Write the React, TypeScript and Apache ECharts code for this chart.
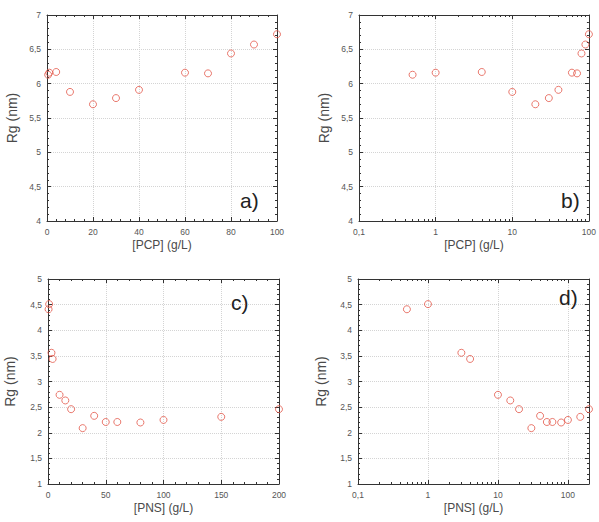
import React, { useEffect, useRef } from 'react';
import * as echarts from 'echarts';

// Data
const pcpConc = [0.5, 1, 4, 10, 20, 30, 40, 60, 70, 80, 90, 100];
const pcpRg = [6.13, 6.16, 6.17, 5.88, 5.7, 5.79, 5.91, 6.16, 6.15, 6.44, 6.57, 6.72];
const pnsConc = [0.5, 1, 3, 4, 10, 15, 20, 30, 40, 50, 60, 80, 100, 150, 200];
const pnsRg = [4.41, 4.51, 3.56, 3.44, 2.74, 2.63, 2.46, 2.09, 2.33, 2.21, 2.21, 2.2, 2.25, 2.31, 2.46];

const panelLabels = ['a)', 'b)', 'c)', 'd)'];
const logMajorTicks = [0.1, 1, 10, 100];
const logMinorTicks = [
  0.2, 0.3, 0.4, 0.5, 0.6, 0.7, 0.8, 0.9,
  2, 3, 4, 5, 6, 7, 8, 9,
  20, 30, 40, 50, 60, 70, 80, 90, 200,
];

const FONT = 'Liberation Sans, Arial, sans-serif';
const AXIS_COLOR = '#333';
const LABEL_COLOR = '#555';
const TITLE_COLOR = '#4a4a4a';
const GRID_COLOR = '#d4d4d4';
const MARKER_COLOR = '#e4574a';

const comma = (v: number) => String(v).replace('.', ',');

type Panel = {
  grid: { left: number; top: number; width: number; height: number };
  xType: 'value' | 'log';
  xMin: number;
  xMax: number;
  xInterval?: number;
  yMin: number;
  yMax: number;
  xName: string;
  x: number[];
  y: number[];
  label: string;
  labelPos: [number, number];
  yNameGap: number;
};

const panels: Panel[] = [
  {
    grid: { left: 47, top: 15, width: 230, height: 206 },
    xType: 'value', xMin: 0, xMax: 100, xInterval: 20,
    yMin: 4, yMax: 7, xName: '[PCP] (g/L)', x: pcpConc, y: pcpRg,
    label: panelLabels[0], labelPos: [240, 200], yNameGap: 28,
  },
  {
    grid: { left: 359, top: 15, width: 231, height: 206 },
    xType: 'log', xMin: 0.1, xMax: 100,
    yMin: 4, yMax: 7, xName: '[PCP] (g/L)', x: pcpConc, y: pcpRg,
    label: panelLabels[1], labelPos: [561, 200], yNameGap: 28,
  },
  {
    grid: { left: 48, top: 279, width: 231, height: 205 },
    xType: 'value', xMin: 0, xMax: 200, xInterval: 50,
    yMin: 1, yMax: 5, xName: '[PNS] (g/L)', x: pnsConc, y: pnsRg,
    label: panelLabels[2], labelPos: [231, 302], yNameGap: 31,
  },
  {
    grid: { left: 358, top: 279, width: 231, height: 205 },
    xType: 'log', xMin: 0.1, xMax: 200,
    yMin: 1, yMax: 5, xName: '[PNS] (g/L)', x: pnsConc, y: pnsRg,
    label: panelLabels[3], labelPos: [559, 297], yNameGap: 30,
  },
];

function buildOption() {
  const grids: any[] = [];
  const xAxes: any[] = [];
  const yAxes: any[] = [];
  const series: any[] = [];
  const graphics: any[] = [];

  const lineStyle = { color: AXIS_COLOR, width: 1 };

  panels.forEach((p, gi) => {
    grids.push({ ...p.grid, show: false, containLabel: false });
    const isLog = p.xType === 'log';

    const xBase: any = {
      gridIndex: gi,
      type: p.xType,
      min: p.xMin,
      max: p.xMax,
      axisLine: { show: true, onZero: false, lineStyle },
      axisTick: { show: true, inside: true, length: 4, lineStyle },
      minorTick: { show: !isLog, splitNumber: 5, length: 2, lineStyle },
    };
    if (!isLog) xBase.interval = p.xInterval;
    if (isLog) xBase.logBase = 10;

    const bottomIndex = xAxes.length;
    xAxes.push({
      ...xBase,
      position: 'bottom',
      name: p.xName,
      nameLocation: 'middle',
      nameGap: 18,
      nameTextStyle: { fontFamily: FONT, fontSize: 12, color: TITLE_COLOR },
      axisLabel: {
        fontFamily: FONT,
        fontSize: 8.5,
        color: LABEL_COLOR,
        margin: 6,
        formatter: (v: number) =>
          isLog ? (logMajorTicks.some((t) => Math.abs(t - v) < 1e-9) ? comma(v) : '') : comma(v),
      },
      splitLine: { show: true, lineStyle: { type: 'dotted', color: GRID_COLOR, width: 1 } },
    });
    xAxes.push({
      ...xBase,
      position: 'top',
      axisLabel: { show: false },
      splitLine: { show: false },
    });
    if (isLog) {
      ['bottom', 'top'].forEach((pos) => {
        xAxes.push({
          gridIndex: gi,
          type: 'log',
          logBase: 10,
          min: p.xMin,
          max: p.xMax,
          position: pos,
          axisLine: { show: false },
          axisTick: { show: true, inside: true, length: 2, lineStyle, customValues: logMinorTicks.filter((v) => v <= p.xMax) },
          axisLabel: { show: false },
          splitLine: { show: false },
        });
      });
    }

    const yBase: any = {
      gridIndex: gi,
      type: 'value',
      min: p.yMin,
      max: p.yMax,
      interval: 0.5,
      axisLine: { show: true, onZero: false, lineStyle },
      axisTick: { show: true, inside: true, length: 4, lineStyle },
      minorTick: { show: true, splitNumber: 5, length: 2, lineStyle },
    };
    const leftIndex = yAxes.length;
    yAxes.push({
      ...yBase,
      position: 'left',
      name: 'Rg (nm)',
      nameLocation: 'middle',
      nameGap: p.yNameGap,
      nameTextStyle: { fontFamily: FONT, fontSize: 14, color: TITLE_COLOR },
      axisLabel: { fontFamily: FONT, fontSize: 8.5, color: LABEL_COLOR, margin: 6, formatter: (v: number) => comma(v) },
      splitLine: { show: true, lineStyle: { type: 'dotted', color: GRID_COLOR, width: 1 } },
    });
    yAxes.push({
      ...yBase,
      position: 'right',
      axisLabel: { show: false },
      splitLine: { show: false },
    });

    series.push({
      type: 'scatter',
      xAxisIndex: bottomIndex,
      yAxisIndex: leftIndex,
      symbol: 'circle',
      symbolSize: 7,
      itemStyle: { color: 'rgba(255,255,255,0)', borderColor: MARKER_COLOR, borderWidth: 1 },
      data: p.x.map((xv, i) => [xv, p.y[i]]),
      z: 5,
    });

    graphics.push({
      type: 'text',
      x: p.labelPos[0],
      y: p.labelPos[1],
      style: {
        text: p.label,
        fontFamily: FONT,
        fontSize: 21,
        fill: '#222',
        textVerticalAlign: 'middle',
        verticalAlign: 'middle',
      },
      z: 10,
    });
  });

  return {
    animation: false,
    backgroundColor: '#ffffff',
    grid: grids,
    xAxis: xAxes,
    yAxis: yAxes,
    series,
    graphic: graphics,
  };
}

export default function App() {
  const ref = useRef<HTMLDivElement>(null);
  useEffect(() => {
    if (!ref.current) return;
    const chart = echarts.init(ref.current, undefined, { renderer: 'svg' });
    chart.setOption(buildOption() as any);
    return () => chart.dispose();
  }, []);
  return (
    <div
      ref={ref}
      style={{ position: 'absolute', left: 0, top: 0, width: 599, height: 522, background: '#fff' }}
    />
  );
}
